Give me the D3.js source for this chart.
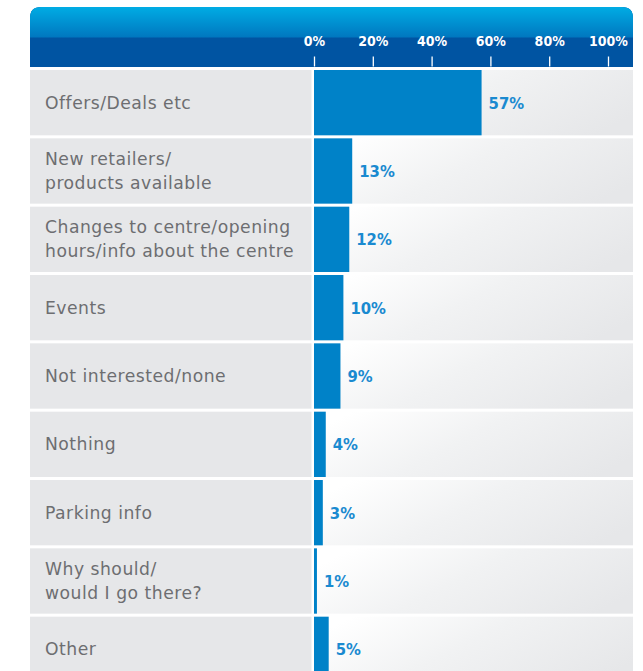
<!DOCTYPE html>
<html>
<head>
<meta charset="utf-8">
<script src="https://cdn.jsdelivr.net/npm/d3@7"></script>
<style>
  html, body { margin: 0; padding: 0; background: #ffffff; }
  svg { display: block; }
</style>
</head>
<body>
<svg id="chart" width="643" height="671"></svg>
<script>
// Survey answers and their shares (%)
const categories = [
  ["Offers/Deals etc"],
  ["New retailers/", "products available"],
  ["Changes to centre/opening", "hours/info about the centre"],
  ["Events"],
  ["Not interested/none"],
  ["Nothing"],
  ["Parking info"],
  ["Why should/", "would I go there?"],
  ["Other"]
];
const values = [57, 13, 12, 10, 9, 4, 3, 1, 5];
const tickValues = [0, 20, 40, 60, 80, 100];
const tickLabels = ["0%", "20%", "40%", "60%", "80%", "100%"];

const svg = d3.select("#chart");
const defs = svg.append("defs");

const left = 30, right = 633, headerTop = 7, headerBottom = 67;
const labelColRight = 311.5, plotLeft = 314;

// Header gradients
const gTop = defs.append("linearGradient").attr("id", "hdrTop")
  .attr("x1", 0).attr("y1", 0).attr("x2", 0).attr("y2", 1);
gTop.append("stop").attr("offset", "0%").attr("stop-color", "#00ace4");
gTop.append("stop").attr("offset", "100%").attr("stop-color", "#0077bf");

const gRow = defs.append("linearGradient").attr("id", "rowBg")
  .attr("x1", 0).attr("y1", 0.3).attr("x2", 1).attr("y2", 0.7);
gRow.append("stop").attr("offset", "0%").attr("stop-color", "#ffffff");
gRow.append("stop").attr("offset", "45%").attr("stop-color", "#f1f2f3");
gRow.append("stop").attr("offset", "100%").attr("stop-color", "#e6e7e9");

// Scales
const x = d3.scaleLinear().domain([0, 100]).range([plotLeft, 608]);
const y = d3.scaleBand().domain(d3.range(values.length))
  .range([70, 70 + 68 * values.length]).paddingInner(3 / 68).paddingOuter(0);

// Header with rounded top corners
const r = 11;
svg.append("path")
  .attr("d", `M${left},${headerBottom} V${headerTop + r} Q${left},${headerTop} ${left + r},${headerTop}
              H${right - r} Q${right},${headerTop} ${right},${headerTop + r} V${headerBottom} Z`)
  .attr("fill", "#0054a2");
svg.append("path")
  .attr("d", `M${left},37.5 V${headerTop + r} Q${left},${headerTop} ${left + r},${headerTop}
              H${right - r} Q${right},${headerTop} ${right},${headerTop + r} V37.5 Z`)
  .attr("fill", "url(#hdrTop)");

// Axis in the header
const axis = d3.axisTop(x).tickValues(tickValues)
  .tickFormat((d, i) => tickLabels[i]).tickSize(10).tickPadding(11);
const ax = svg.append("g").attr("transform", `translate(0,${headerBottom - 0.5})`).call(axis);
ax.select(".domain").remove();
ax.selectAll(".tick line").attr("stroke", "#ffffff").attr("stroke-width", 1.3);
ax.selectAll(".tick text")
  .attr("fill", "#ffffff")
  .attr("font-family", "'DejaVu Sans Condensed', 'DejaVu Sans', sans-serif")
  .attr("font-weight", "bold")
  .attr("font-size", 14);

// Rows
const rows = svg.append("g").selectAll("g").data(values).join("g")
  .attr("transform", (d, i) => `translate(0,${y(i)})`);

rows.append("rect")
  .attr("x", left).attr("width", labelColRight - left)
  .attr("height", y.bandwidth()).attr("fill", "#e6e7e9");

rows.append("rect")
  .attr("x", plotLeft).attr("width", right - plotLeft)
  .attr("height", y.bandwidth()).attr("fill", "url(#rowBg)");

rows.append("rect")
  .attr("x", x(0)).attr("width", d => x(d) - x(0))
  .attr("height", y.bandwidth()).attr("fill", "#0082c8");

rows.append("text")
  .attr("x", d => x(d) + 7)
  .attr("y", y.bandwidth() / 2 + 6)
  .attr("fill", "#1a8ad0")
  .attr("font-family", "'DejaVu Sans Condensed', 'DejaVu Sans', sans-serif")
  .attr("font-weight", "bold")
  .attr("font-size", 16.5)
  .text(d => d + "%");

rows.append("text")
  .attr("fill", "#6d6e71")
  .attr("font-family", "'DejaVu Sans', sans-serif")
  .attr("font-size", 17.2)
  .attr("letter-spacing", 0.5)
  .each(function(d, i) {
    const lines = categories[i];
    const t = d3.select(this);
    const lh = 24;
    const startY = y.bandwidth() / 2 + 6 - (lines.length - 1) * lh / 2;
    lines.forEach((ln, k) => {
      t.append("tspan").attr("x", 45).attr("y", startY + k * lh).text(ln);
    });
  });
</script>
</body>
</html>
